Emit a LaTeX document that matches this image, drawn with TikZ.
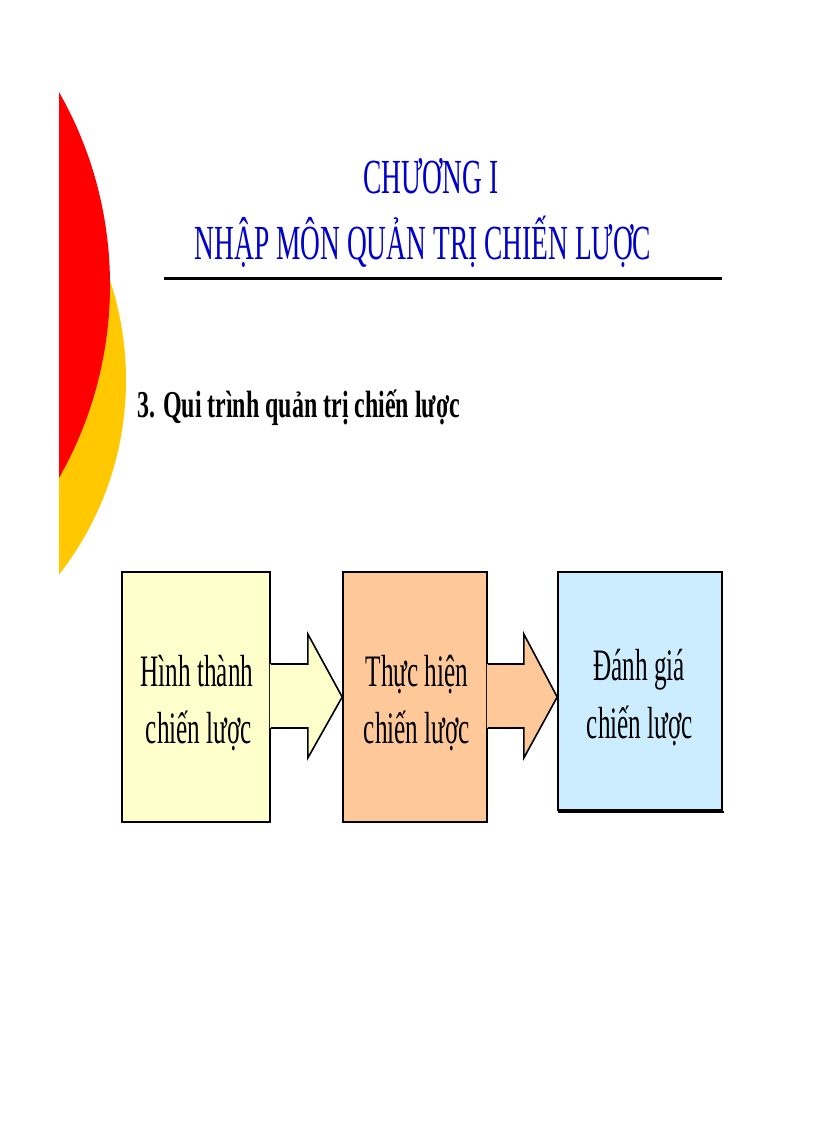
\documentclass[tikz,border=0pt]{standalone}
\usepackage{fontspec}
\setmainfont{Liberation Serif}
\newfontfamily\condfont[FakeStretch=0.56]{Liberation Serif}
\newfontfamily\headfont[FakeStretch=0.63]{Liberation Serif}
\usetikzlibrary{calc}
\definecolor{titleblue}{RGB}{0,0,204}
\definecolor{discred}{RGB}{255,0,0}
\definecolor{discgold}{RGB}{255,200,0}
\definecolor{fillyellow}{RGB}{255,255,204}
\definecolor{fillpeach}{RGB}{255,200,153}
\definecolor{fillblue}{RGB}{204,236,255}
\begin{document}
\begin{tikzpicture}[x=1pt,y=-1pt]
\tikzset{
  procbox/.style={draw=black, line width=1.6pt, inner sep=0pt},
  boxtext/.style={anchor=base, inner sep=0pt, font=\condfont\fontsize{45}{45}\selectfont},
  titletext/.style={anchor=base, inner sep=0pt, text=titleblue, font=\condfont\fontsize{49}{49}\selectfont},
  headtext/.style={anchor=base west, inner sep=0pt, font=\headfont\bfseries\fontsize{38}{38}\selectfont},
  arrowline/.style={draw=black, line width=1.6pt, line join=miter}
}
\useasboundingbox (0,0) rectangle (816,1123);
\fill[white] (0,0) rectangle (816,1123);
% decorative discs at the left edge
\begin{scope}
  \clip (59,0) rectangle (816,1123);
  \fill[discgold] (-190,380) circle (316);
  \fill[discred] (-280,285) circle (390);
\end{scope}
% title
\node[titletext] (t1) at (431,194) {CHƯƠNG I};
\node[titletext] (t2) at (423,259) {NHẬP MÔN QUẢN TRỊ CHIẾN LƯỢC};
\draw[line width=3pt] (164,278) -- (722,278);
% heading
\node[headtext] (h) at (137,417) {3. Qui trình quản trị chiến lược};
% boxes
\node[procbox, fill=fillyellow, minimum width=148pt, minimum height=250pt] (b1) at (196,697) {};
\node[procbox, fill=fillpeach, minimum width=144pt, minimum height=250pt] (b2) at (415,697) {};
\node[procbox, fill=fillblue, minimum width=164pt, minimum height=238pt] (b3) at (640,691) {};
\draw[line width=2.5pt] ($(b3.south west)+(1,1)$) -- ($(b3.south east)+(1,1)$);
% arrows
\fill[fillyellow] ($(b1.east)+(-1,-33)$) -- ($(b1.east)+(37,-33)$) -- ($(b1.east)+(37,-63)$) -- (b2.west)
  -- ($(b1.east)+(37,61)$) -- ($(b1.east)+(37,31)$) -- ($(b1.east)+(-1,31)$) -- cycle;
\draw[arrowline] ($(b1.east)+(0,-33)$) -- ($(b1.east)+(37,-33)$) -- ($(b1.east)+(37,-63)$) -- (b2.west)
  -- ($(b1.east)+(37,61)$) -- ($(b1.east)+(37,31)$) -- ($(b1.east)+(0,31)$);
\fill[fillpeach] ($(b2.east)+(-1,-33)$) -- ($(b2.east)+(36,-33)$) -- ($(b2.east)+(36,-63)$) -- (b3.west |- b2.east)
  -- ($(b2.east)+(36,61)$) -- ($(b2.east)+(36,31)$) -- ($(b2.east)+(-1,31)$) -- cycle;
\draw[arrowline] ($(b2.east)+(0,-33)$) -- ($(b2.east)+(36,-33)$) -- ($(b2.east)+(36,-63)$) -- (b3.west |- b2.east)
  -- ($(b2.east)+(36,61)$) -- ($(b2.east)+(36,31)$) -- ($(b2.east)+(0,31)$);
% box texts
\node[boxtext] (l1a) at (197,686) {Hình thành};
\node[boxtext] (l1b) at (199,743) {chiến lược};
\node[boxtext] (l2a) at (417,686) {Thực hiện};
\node[boxtext] (l2b) at (417,743) {chiến lược};
\node[boxtext] (l3a) at (639,680) {Đánh giá};
\node[boxtext] (l3b) at (640,738) {chiến lược};
\end{tikzpicture}
\end{document}
